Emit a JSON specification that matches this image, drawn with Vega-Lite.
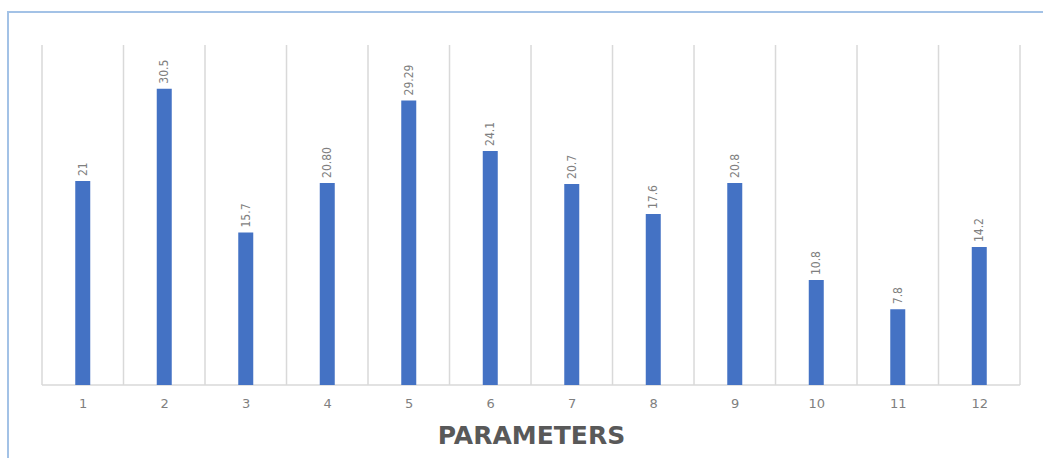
{
  "$schema": "https://vega.github.io/schema/vega-lite/v6.json",
  "width": 1046,
  "height": 458,
  "autosize": {"type": "none"},
  "padding": {"left": 8, "top": 12, "right": 0, "bottom": 0},
  "background": "white",
  "config": {
    "view": {"stroke": "#a3c2e6", "strokeWidth": 2}
  },
  "datasets": {
    "bars": [
      {"param": 1, "value": 21, "label": "21"},
      {"param": 2, "value": 30.5, "label": "30.5"},
      {"param": 3, "value": 15.7, "label": "15.7"},
      {"param": 4, "value": 20.8, "label": "20.80"},
      {"param": 5, "value": 29.29, "label": "29.29"},
      {"param": 6, "value": 24.1, "label": "24.1"},
      {"param": 7, "value": 20.7, "label": "20.7"},
      {"param": 8, "value": 17.6, "label": "17.6"},
      {"param": 9, "value": 20.8, "label": "20.8"},
      {"param": 10, "value": 10.8, "label": "10.8"},
      {"param": 11, "value": 7.8, "label": "7.8"},
      {"param": 12, "value": 14.2, "label": "14.2"}
    ],
    "bounds": [
      {"b": 0.5}, {"b": 1.5}, {"b": 2.5}, {"b": 3.5}, {"b": 4.5}, {"b": 5.5}, {"b": 6.5},
      {"b": 7.5}, {"b": 8.5}, {"b": 9.5}, {"b": 10.5}, {"b": 11.5}, {"b": 12.5}
    ],
    "base": [{"from": 0.5, "to": 12.5, "y": 0}]
  },
  "layer": [
    {
      "data": {"name": "bounds"},
      "mark": {"type": "rule", "color": "#d9d9d9", "strokeWidth": 1.5},
      "encoding": {
        "x": {"field": "b", "type": "quantitative", "scale": {"domain": [0.0828, 12.917], "nice": false, "zero": false, "padding": 0},
          "axis": {"values": [1,2,3,4,5,6,7,8,9,10,11,12], "format": "d", "grid": false, "ticks": false, "domain": false,
            "offset": -85, "labelPadding": 12, "labelFont": "DejaVu Sans", "labelFontSize": 13, "labelColor": "#7f7f7f",
            "title": "PARAMETERS", "titleFont": "DejaVu Sans", "titleFontWeight": "bold", "titleFontSize": 25,
            "titleColor": "#595959", "titlePadding": 13}},
        "y": {"datum": 0, "type": "quantitative", "scale": {"domain": [-8.75, 38.4], "nice": false, "zero": false, "padding": 0}, "axis": null},
        "y2": {"datum": 35}
      }
    },
    {
      "data": {"name": "base"},
      "mark": {"type": "rule", "color": "#d9d9d9", "strokeWidth": 1.5},
      "encoding": {
        "x": {"field": "from", "type": "quantitative"},
        "x2": {"field": "to"},
        "y": {"field": "y", "type": "quantitative"}
      }
    },
    {
      "data": {"name": "bars"},
      "mark": {"type": "bar", "size": 15, "color": "#4472c4"},
      "encoding": {
        "x": {"field": "param", "type": "quantitative"},
        "y": {"field": "value", "type": "quantitative"},
        "y2": {"datum": 0}
      }
    },
    {
      "data": {"name": "bars"},
      "mark": {"type": "text", "angle": 270, "align": "left", "baseline": "middle", "dx": 5,
        "font": "DejaVu Sans Condensed", "fontSize": 12, "color": "#7f7f7f"},
      "encoding": {
        "x": {"field": "param", "type": "quantitative"},
        "y": {"field": "value", "type": "quantitative"},
        "text": {"field": "label"}
      }
    }
  ]
}
